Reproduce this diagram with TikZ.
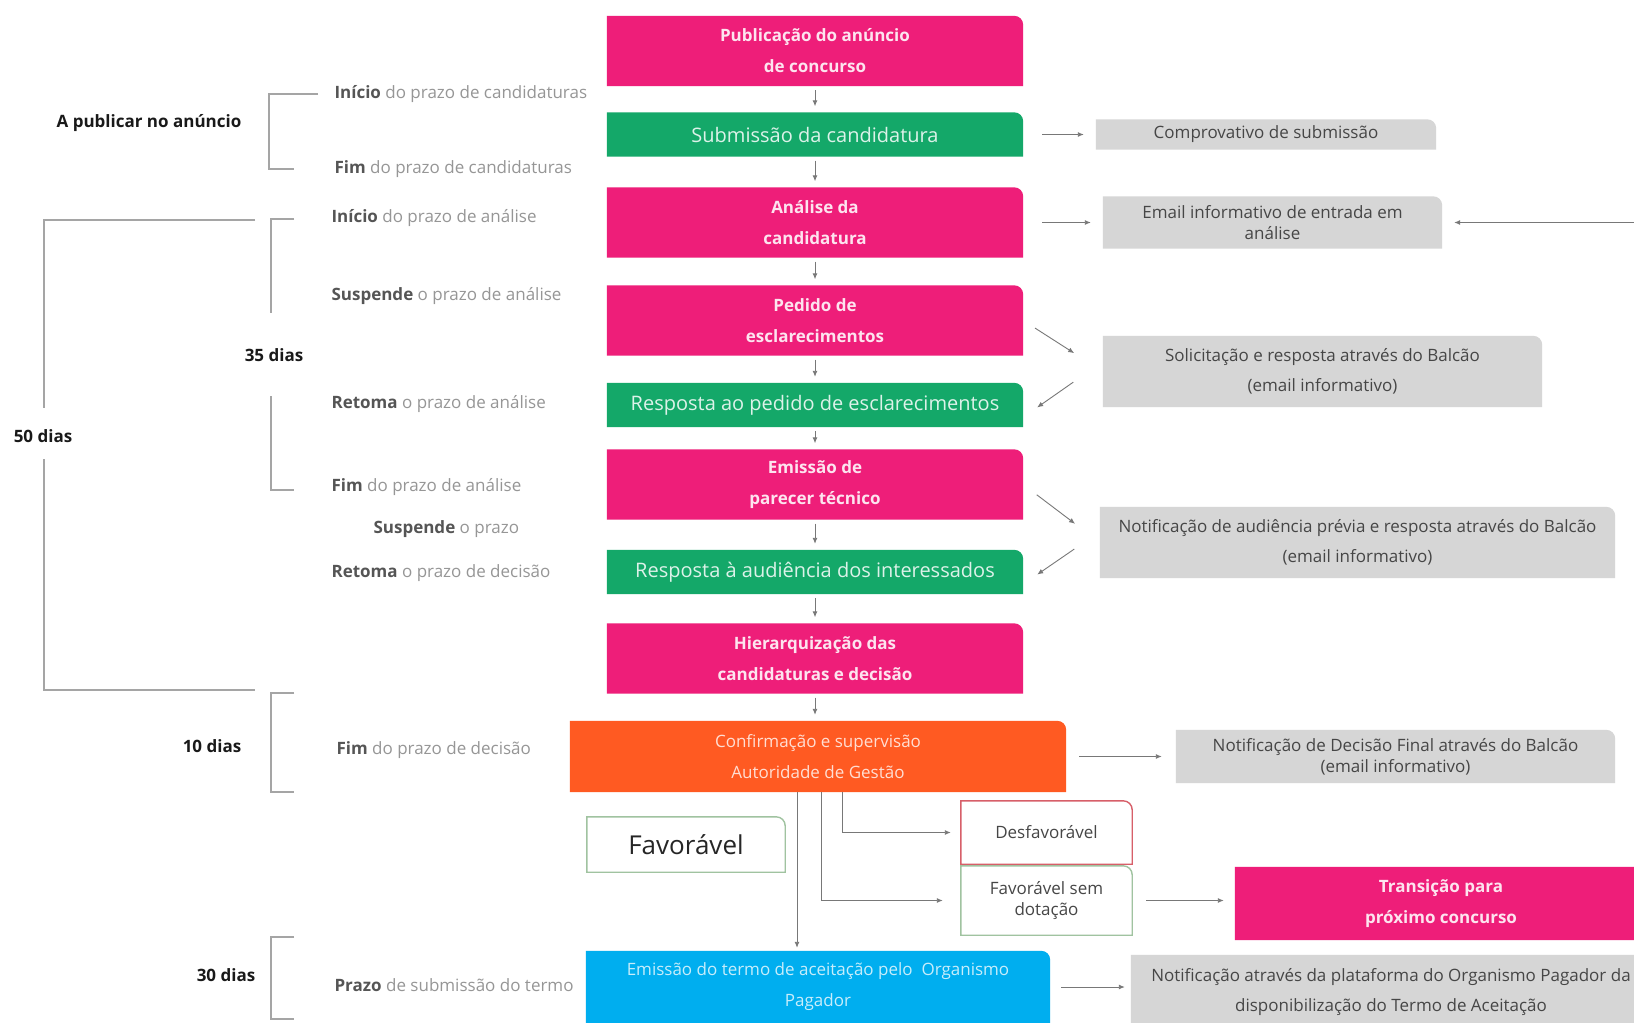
\documentclass[tikz,border=0pt]{standalone}
\usepackage{fontspec}
\setmainfont{Open Sans}
\usepackage{xcolor}
\usepackage{tikz}
\usetikzlibrary{arrows.meta,positioning,calc,backgrounds}
\definecolor{pinkc}{RGB}{238,30,121}
\definecolor{greenc}{RGB}{20,168,105}
\definecolor{orangec}{RGB}{255,90,34}
\definecolor{bluec}{RGB}{0,174,239}
\definecolor{grayc}{RGB}{214,214,214}
\definecolor{linec}{RGB}{120,120,120}
\definecolor{brkc}{RGB}{165,165,165}
\definecolor{labc}{RGB}{150,150,150}
\definecolor{kwc}{RGB}{85,85,85}
\definecolor{durc}{RGB}{25,25,25}
\definecolor{gtxt}{RGB}{70,70,70}
\definecolor{favc}{RGB}{160,195,160}
\definecolor{redc}{RGB}{215,95,105}
\newcommand{\kw}[1]{\textbf{\textcolor{kwc}{#1}}}
\tikzset{
	box/.style={inner sep=3pt, align=center, minimum width=416pt},
	pk/.style={box, text=white!88!pinkc, font=\bfseries\fontsize{17}{31}\selectfont, minimum height=70pt},
	gr/.style={box, text=white!85!greenc, font=\fontsize{20}{24}\selectfont, minimum height=44pt},
	gy/.style={box, text=gtxt, font=\fontsize{17}{30}\selectfont},
	gyt/.style={gy, font=\fontsize{17}{21}\selectfont},
	lab/.style={anchor=west, text=labc, font=\fontsize{17}{20}\selectfont},
	dur/.style={text=durc, font=\bfseries\fontsize{17}{20}\selectfont},
	brk/.style={draw=brkc, line width=1.6pt},
	con/.style={draw=linec, line width=0.9pt, ->},
	pkf/.style={fill=pinkc},
	grf/.style={fill=greenc},
	orf/.style={fill=orangec},
	blf/.style={fill=bluec},
	gyf/.style={fill=grayc},
	favl/.style={draw=favc, line width=1.4pt, fill=white},
	redl/.style={draw=redc, line width=1.4pt, fill=white},
}
\begin{document}
\begin{tikzpicture}[x=1pt, y=-1pt, >={Latex[length=6pt, width=5pt]}]
	\useasboundingbox (0,0) rectangle (1634,1023);
	\node[pk] (pub) at (815,51) {Publicação do anúncio\\de concurso};
	\node[gr] (sub) at (815,134.5) {Submissão da candidatura};
	\node[pk] (ana) at (815,222.5) {Análise da\\candidatura};
	\node[pk] (ped) at (815,320.5) {Pedido de\\esclarecimentos};
	\node[gr] (rpe) at (815,405) {Resposta ao pedido de esclarecimentos};
	\node[pk] (par) at (815,484.5) {Emissão de\\parecer técnico};
	\node[gr] (rau) at (815,572) {Resposta à audiência dos interessados};
	\node[pk] (hie) at (815,658.5) {Hierarquização das\\candidaturas e decisão};
	\node[box, text=white!80!orangec, font=\fontsize{17}{31}\selectfont, minimum width=496pt, minimum height=71pt] (conf) at (818,756.5) {Confirmação e supervisão\\Autoridade de Gestão};
	\node[box, text=white!78!bluec, font=\fontsize{17}{31}\selectfont, minimum width=464pt, minimum height=72pt] (term) at (818,987) {Emissão do termo de aceitação pelo\ \ Organismo\\Pagador};
	\node[box, text=black!85, font=\fontsize{26}{30}\selectfont, minimum width=198pt, minimum height=55pt] (fav) at (686,844.5) {Favorável};
	\node[box, text=gtxt, font=\fontsize{17}{21}\selectfont, minimum width=171pt, minimum height=63pt] (dfav) at (1046.5,832.5) {Desfavorável};
	\node[box, text=gtxt, font=\fontsize{17}{21}\selectfont, minimum width=171pt, minimum height=69pt] (fsd) at (1046.5,900.5) {Favorável sem\\dotação};
	\node[pk, minimum width=412pt, minimum height=73pt] (tra) at (1441,903.5) {Transição para\\próximo concurso};
	\node[gy, minimum width=340pt, minimum height=30pt] (comp) at (1266,134.5) {Comprovativo de submissão};
	\node[gyt, minimum width=339pt, minimum height=52pt] (email) at (1272.5,222.5) {Email informativo de entrada em\\análise};
	\node[gy, minimum width=439pt, minimum height=71pt] (sol) at (1322.5,371.5) {Solicitação e resposta através do Balcão\\(email informativo)};
	\node[gy, minimum width=515pt, minimum height=71pt] (aud) at (1357.5,542.5) {Notificação de audiência prévia e resposta através do Balcão\\(email informativo)};
	\node[gyt, minimum width=439pt, minimum height=53pt] (fin) at (1395.5,756.5) {Notificação de Decisão Final através do Balcão\\(email informativo)};
	\node[gy, minimum width=520pt, minimum height=74pt] (plat) at (1391,992) {Notificação através da plataforma do Organismo Pagador da\\disponibilização do Termo de Aceitação};
	\coordinate (rin) at (1634,222.5);
	\node[dur] (apub) at (149,123) {A publicar no anúncio};
	\node[dur] (d35) at (274,355) {35 dias};
	\node[dur] (d50) at (43,436) {50 dias};
	\node[dur] (d10) at (212,746) {10 dias};
	\node[dur] (d30) at (226,975) {30 dias};
	\node[lab] (ini1) at (331,94) {\kw{Início} do prazo de candidaturas};
	\node[lab] (fim1) at (331,169) {\kw{Fim} do prazo de candidaturas};
	\node[lab] (ini2) at (328,218) {\kw{Início} do prazo de análise};
	\node[lab] (sus1) at (328,296) {\kw{Suspende} o prazo de análise};
	\node[lab] (ret1) at (328,404) {\kw{Retoma} o prazo de análise};
	\node[lab] (fim2) at (328,487) {\kw{Fim} do prazo de análise};
	\node[lab] (sus2) at (370,529) {\kw{Suspende} o prazo};
	\node[lab] (ret2) at (328,573) {\kw{Retoma} o prazo de decisão};
	\node[lab] (fim3) at (333,750) {\kw{Fim} do prazo de decisão};
	\node[lab] (praz) at (331,985) {\kw{Prazo} de submissão do termo};
	\draw[brk] (318,94) -| (269,169) -- (294,169);
	\draw[brk] (294,219) -| (271,313);
	\draw[brk] (271,396) |- (294,490);
	\draw[brk] (255,220) -| (44,408);
	\draw[brk] (44,459) |- (255,690);
	\draw[brk] (294,693) -| (271,792) -- (294,792);
	\draw[brk] (294,937) -| (271,1019) -- (294,1019);
	\foreach \a/\b in {pub/sub, sub/ana, ana/ped, ped/rpe, rpe/par, par/rau, rau/hie}
		\draw[con, shorten <=4pt, shorten >=6pt] (\a) -- (\b);
	\draw[con, shorten <=4pt, shorten >=6pt] (hie) -- (hie |- conf.north);
	\draw[con, shorten <=19pt, shorten >=12pt] (sub) -- (comp);
	\draw[con, shorten <=19pt, shorten >=12pt] (ana) -- (email);
	\draw[con, shorten >=12pt] (rin) -- (email);
	\draw[con, shorten <=14pt, shorten >=34pt] (ped.east) -- (sol.west);
	\draw[con, shorten <=36pt, shorten >=17pt] ([yshift=10pt]sol.west) -- ([yshift=10pt]rpe.south east);
	\draw[con, shorten <=17pt, shorten >=31pt] (par.east) -- (aud.west);
	\draw[con, shorten <=31pt, shorten >=17pt] ([yshift=11pt]aud.west) -- ([yshift=10pt]rau.south east);
	\draw[con, shorten <=13pt, shorten >=14pt] (conf) -- (fin);
	\draw[con, shorten >=10pt] ([xshift=24pt]conf.south) |- (dfav.west);
	\draw[con, shorten >=18pt] ([xshift=3pt]conf.south) |- (fsd.west);
	\draw[con, shorten >=3pt] ([xshift=-21pt]conf.south) -- ([xshift=-21pt]conf.south |- term.north);
	\draw[con, shorten <=14pt, shorten >=11pt] (fsd.east) -- (fsd.east -| tra.west);
	\draw[con, shorten <=11pt, shorten >=6pt] (term.east) -- (term.east -| plat.west);
	\begin{scope}[on background layer]
		\fill[white] (0,0) rectangle (1634,1023);
		\foreach \n/\s in {pub/pkf, sub/grf, ana/pkf, ped/pkf, rpe/grf, par/pkf, rau/grf, hie/pkf, conf/orf, term/blf, tra/pkf, comp/gyf, email/gyf, sol/gyf, aud/gyf, fin/gyf, plat/gyf, fav/favl, dfav/redl, fsd/favl}
			\path[\s] (\n.south west) -- (\n.north west) -- ([xshift=-9pt]\n.north east)
				arc[start angle=90, end angle=0, radius=9pt] -- (\n.south east) -- cycle;
	\end{scope}
\end{tikzpicture}
\end{document}
